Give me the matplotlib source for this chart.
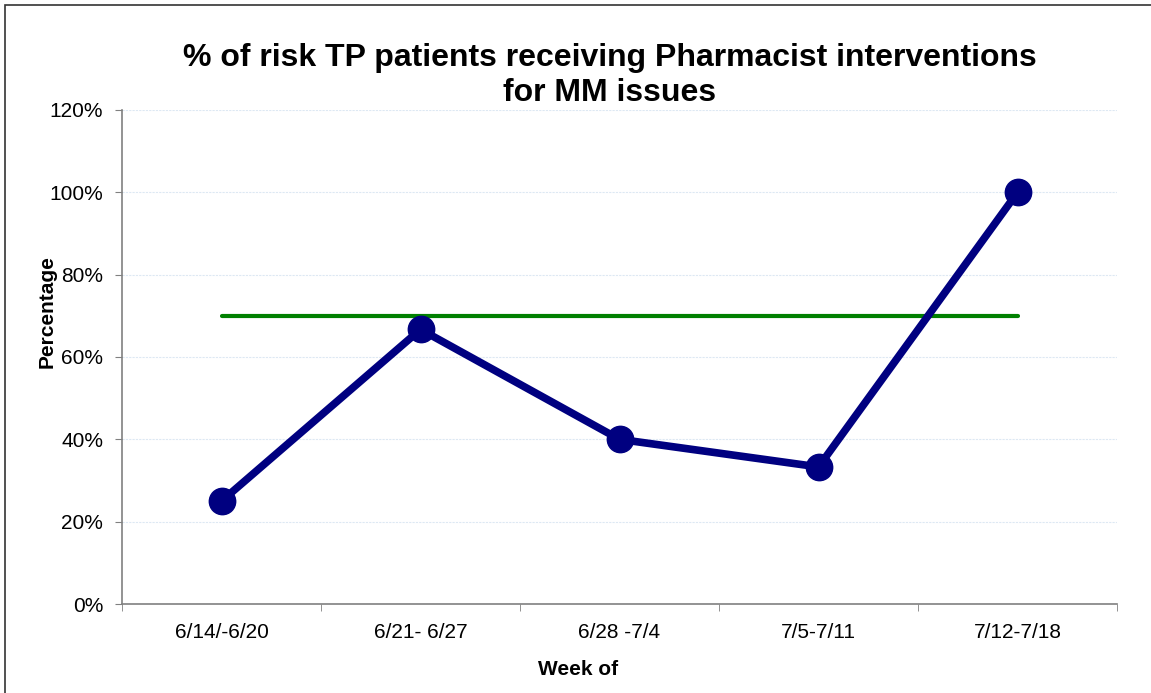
import numpy as np
import matplotlib
matplotlib.use("Agg")
import matplotlib.pyplot as plt
from matplotlib.patches import Rectangle

weeks = ["6/14/-6/20", "6/21- 6/27", "6/28 -7/4", "7/5-7/11", "7/12-7/18"]
pct = [25.0, 66.7, 40.0, 33.3, 100.0]
goal = [70, 70, 70, 70, 70]

plt.rcParams["font.family"] = ["Liberation Sans", "DejaVu Sans"]

fig = plt.figure(figsize=(11.51, 6.93), dpi=100)
ax = fig.add_axes([0.106, 0.1284, 0.8645, 0.7129])

# figure frame (left/top visible)
fig.patches.append(Rectangle((5 / 1151, -0.1), 1.2, 1 - 5 / 693 + 0.1,
                             transform=fig.transFigure, fill=False,
                             edgecolor="#333333", linewidth=1.2))

x = np.arange(len(weeks))
ax.plot(x, goal, color="#008000", linewidth=3, solid_capstyle="round", zorder=2)
ax.plot(x, pct, color="#000080", linewidth=5.5, marker="o", markersize=19,
        zorder=3, clip_on=False)

ax.set_xlim(-0.5, len(weeks) - 0.5)
ax.set_ylim(0, 120)
ax.set_yticks(np.arange(0, 121, 20))
ax.set_yticklabels([f"{v}%" for v in range(0, 121, 20)], fontsize=15)
ax.set_xticks(x)
ax.set_xticklabels(weeks, fontsize=15)
ax.set_xticks(np.arange(-0.5, len(weeks)), minor=True)
ax.tick_params(axis="x", which="major", length=0, pad=14)
ax.tick_params(axis="x", which="minor", length=5, color="#808080", direction="out")
ax.tick_params(axis="y", length=5, color="#808080", direction="out", pad=8.5)

ax.grid(axis="y", color="#dde8f3", linewidth=0.8, linestyle=(0, (2, 1)))
ax.set_axisbelow(True)
for s in ["top", "right"]:
    ax.spines[s].set_visible(False)
for s in ["left", "bottom"]:
    ax.spines[s].set_color("#808080")
    ax.spines[s].set_linewidth(1.2)

ax.set_xlabel("Week of", fontsize=15, fontweight="bold")
ax.xaxis.set_label_coords(0.458, -0.113)
ax.set_ylabel("Percentage", fontsize=15, fontweight="bold")
ax.yaxis.set_label_coords(-0.066, 0.591)
fig.text(0.530, 0.891, "% of risk TP patients receiving Pharmacist interventions\nfor MM issues",
         ha="center", va="center", fontsize=23, fontweight="bold", linespacing=1.2)

fig.savefig("out.png", dpi=100, facecolor="white")
